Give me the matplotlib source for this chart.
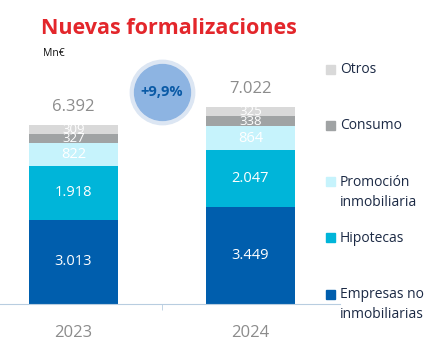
import matplotlib.pyplot as plt
from matplotlib.patches import Rectangle

plt.rcParams['font.family'] = ['Open Sans', 'DejaVu Sans']

years = ['2023', '2024']
series = ['Empresas no\ninmobiliarias', 'Hipotecas', 'Promoción\ninmobiliaria', 'Consumo', 'Otros']
empresas = [3013, 3449]
hipotecas = [1918, 2047]
promocion = [822, 864]
consumo = [327, 338]
otros = [309, 325]
totals = ['6.392', '7.022']
growth = '+9,9%'

values = [empresas, hipotecas, promocion, consumo, otros]
colors = ['#005ead', '#00b5d9', '#c6f3fc', '#a0a3a4', '#d9d9d9']

W, H = 441, 355
fig = plt.figure(figsize=(W / 100, H / 100), dpi=100)
ax = fig.add_axes([0, 51 / H, 340 / W, 224 / H])

x = [0, 1]
bottom = [0, 0]
for vals, col in zip(values, colors):
    bars = ax.bar(x, vals, width=0.503, bottom=bottom, color=col, zorder=2)
    for b, v in zip(bars, vals):
        s = f'{v:,}'.replace(',', '.')
        fs = 10.5 if v > 500 else 9.5
        ax.text(b.get_x() + b.get_width() / 2, b.get_y() + b.get_height() / 2, s,
                ha='center', va='center', color='white', fontsize=fs, zorder=3)
    bottom = [a + b for a, b in zip(bottom, vals)]

# totals above the bars
for xi, top, lab in zip(x, bottom, totals):
    ax.annotate(lab, (xi, top), xytext=(0, 13), textcoords='offset points',
                ha='center', va='center', color='#8c8c8c', fontsize=12)

ax.set_xlim(-0.415, 1.506)
ax.set_ylim(0, 8000)
for sp in ['top', 'right', 'left']:
    ax.spines[sp].set_visible(False)
ax.spines['bottom'].set_color('#b8cde0')
ax.set_yticks([])
ax.set_xticks(x, years)
ax.tick_params(axis='x', length=0, pad=15, labelsize=12, labelcolor='#8c8c8c')
ax.set_xticks([0.5], minor=True)
ax.tick_params(axis='x', which='minor', length=4.5, color='#b8cde0', direction='out')

# growth bubble
ax.scatter([0.5], [7570], s=2150, color='#dce6f3', clip_on=False, zorder=4)
ax.scatter([0.5], [7570], s=1620, color='#8db4e2', clip_on=False, zorder=5)
ax.text(0.5, 7570, growth, ha='center', va='center', color='#0a5aa6',
        fontsize=10.5, fontweight='bold', zorder=6, clip_on=False)

# title
fig.text(41 / W, 1 - 34 / H, 'Nuevas formalizaciones', color='#e3262b',
         fontsize=15.5, fontweight='bold', va='baseline')
fig.text(43 / W, 1 - 56 / H, 'Mn€', color='#111111', fontsize=7.5, va='baseline')

# legend
for i, (lab, col) in enumerate(zip(series[::-1], colors[::-1])):
    yc = 69 + 56.3 * i
    fig.patches.append(Rectangle((326 / W, 1 - (yc + 4.5) / H), 9 / W, 9 / H,
                                 transform=fig.transFigure, color=col))
    fig.text(340 / W, 1 - (yc - 7) / H, lab, color='#1c2a45', fontsize=10,
             va='top', linespacing=1.45)

fig.savefig('out.png', dpi=100)
